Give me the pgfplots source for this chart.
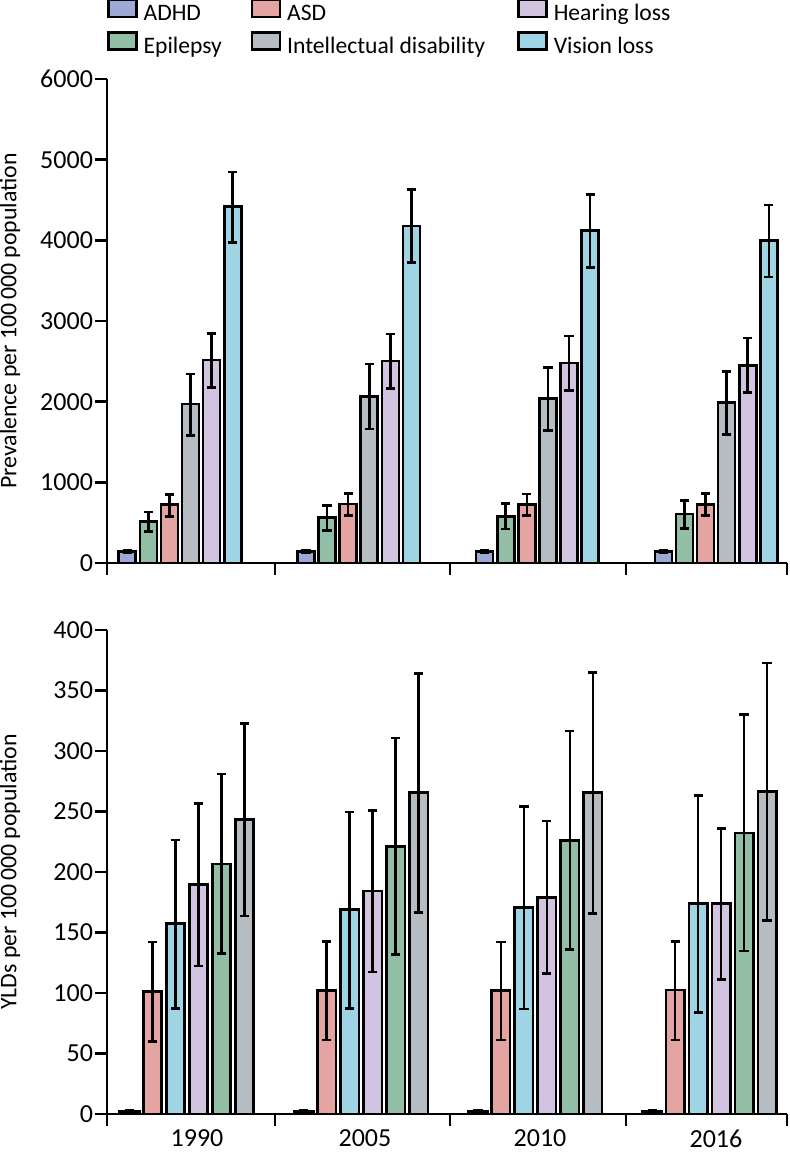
\documentclass[border=0pt]{standalone}
\usepackage{fontspec}
\setmainfont{Carlito}
\usepackage{pgfplots}
\usepackage{pgfplotstable}
\pgfplotsset{compat=1.18}

\definecolor{cADHD}{HTML}{9DAAD6}
\definecolor{cASD}{HTML}{E4A4A1}
\definecolor{cHear}{HTML}{D2C4E0}
\definecolor{cEpi}{HTML}{91BEA5}
\definecolor{cID}{HTML}{B5BCC2}
\definecolor{cVis}{HTML}{9ED4E4}

% Prevalence per 100 000 (value, lower, upper)
\pgfplotstableread{
g adhd adhdlo adhdhi epi epilo epihi asd asdlo asdhi id idlo idhi hear hearlo hearhi vis vislo vishi
0 144 128 162 516 392 631 722 578 846 1969 1581 2344 2517 2175 2848 4416 3970 4845
1 144 128 162 565 404 710 730 586 858 2063 1659 2468 2505 2167 2839 4177 3723 4631
2 144 128 162 578 421 735 722 590 854 2039 1643 2427 2480 2138 2815 4119 3665 4565
3 144 128 162 607 429 776 722 590 858 1989 1593 2377 2451 2113 2790 3995 3545 4437
}\toptab

% YLDs per 100 000 (value, lower, upper)
\pgfplotstableread{
g adhd adhdlo adhdhi asd asdlo asdhi vis vislo vishi hear hearlo hearhi epi epilo epihi id idlo idhi
0 2.3 1.5 3.1 101.3 59.7 142.0 157.2 87.3 226.5 189.8 122.3 256.8 206.7 132.5 280.9 243.4 163.6 322.6
1 2.3 1.5 3.1 101.9 61.0 142.6 168.9 87.3 249.5 184.3 117.3 251.0 221.3 131.6 310.6 265.5 166.5 363.9
2 2.3 1.5 3.1 101.9 61.1 142.0 170.9 86.8 254.1 179.0 115.9 242.2 226.2 136.0 316.4 265.5 165.9 365.1
3 2.3 1.5 3.1 102.5 61.1 142.6 173.8 83.8 263.2 174.1 111.2 236.1 232.3 134.8 330.1 266.4 160.1 372.6
}\bottab

% #1 table, #2 column, #3 offset, #4 colour, #5 bar width
\newcommand{\bbar}[5]{%
\addplot[ybar, bar width=#5, bar shift=0pt, draw=black, line width=1.3pt, fill=#4, forget plot,
  error bars/.cd, y dir=both, y explicit,
  error bar style={line width=1.3pt, black},
  error mark options={rotate=90, line width=1.3pt, black, mark size=2.3pt}]
  table[x expr=\thisrow{g}+(#3), y=#2,
        y error plus expr=\thisrow{#2hi}-\thisrow{#2},
        y error minus expr=\thisrow{#2}-\thisrow{#2lo}] {#1};}

\pgfplotsset{myax/.style={
  scale only axis, width=340pt, height=242pt,
  axis x line*=bottom, axis y line*=left,
  axis line style={line width=1.3pt, black},
  tick style={line width=1.3pt, black},
  major tick length=6pt, tick align=outside,
  enlargelimits=false, clip=false,
  ticklabel style={font=\fontsize{13}{15}\selectfont},
  yticklabel style={xshift=2.5pt},
  /pgf/number format/assume math mode=true,
  /pgf/number format/1000 sep={},
  scaled y ticks=false,
  ymin=0,
  ylabel style={font=\fontsize{11.9}{14}\selectfont, at={(axis description cs:-0.1426,0.5)}, anchor=center},
}}

\begin{document}
\begin{tikzpicture}
\begin{axis}[myax,
  at={(0,0)}, anchor=south west,
  xmin=-0.4085, xmax=3.3967,
  xtick={-0.4085,0.532,1.511,2.496,3.3967}, xticklabels={},
  ymax=6000, ytick={0,1000,...,6000},
  ylabel={Prevalence per 100\,000 population},
  legend columns=3,
  legend cell align=left,
  legend image code/.code={\draw[#1, line width=1.3pt] (0pt,-0.75pt) rectangle (14pt,7.75pt);},
  legend style={draw=none, fill=none, inner sep=0pt, outer sep=0pt,
    at={(axis description cs:0,1.1663)}, anchor=north west,
    nodes={inner sep=0pt, text height=8pt, text depth=3pt, font=\fontsize{11.8}{14}\selectfont},
    row sep=2.5pt, column sep=0pt,
    /tikz/every odd column/.append style={column sep=3pt}},
]
\addlegendimage{fill=cADHD, draw=black}
\addlegendentry{\makebox[53.5pt][l]{ADHD}}
\addlegendimage{fill=cASD, draw=black}
\addlegendentry{\makebox[115pt][l]{ASD}}
\addlegendimage{fill=cHear, draw=black}
\addlegendentry{Hearing loss}
\addlegendimage{fill=cEpi, draw=black}
\addlegendentry{\makebox[53.5pt][l]{Epilepsy}}
\addlegendimage{fill=cID, draw=black}
\addlegendentry{\makebox[115pt][l]{Intellectual disability}}
\addlegendimage{fill=cVis, draw=black}
\addlegendentry{Vision loss}

\bbar{\toptab}{adhd}{-0.295}{cADHD}{0.095}
\bbar{\toptab}{epi}{-0.177}{cEpi}{0.095}
\bbar{\toptab}{asd}{-0.059}{cASD}{0.095}
\bbar{\toptab}{id}{0.059}{cID}{0.095}
\bbar{\toptab}{hear}{0.177}{cHear}{0.095}
\bbar{\toptab}{vis}{0.295}{cVis}{0.095}
\end{axis}

\begin{axis}[myax,
  at={(0,-33.5pt)}, anchor=north west,
  xmin=-0.4592, xmax=3.4443,
  xtick={-0.4592,0.505,1.510,2.520,3.4443},
  xticklabels={1990,2005,2010,2016,{}},
  xticklabel style={xshift=45pt, yshift=1.5pt, font=\fontsize{13}{15}\selectfont},
  ymax=400, ytick={0,50,...,400},
  ylabel={YLDs per 100\,000 population},
]
\bbar{\bottab}{adhd}{-0.330}{cADHD}{0.112}
\bbar{\bottab}{asd}{-0.198}{cASD}{0.106}
\bbar{\bottab}{vis}{-0.066}{cVis}{0.106}
\bbar{\bottab}{hear}{0.066}{cHear}{0.106}
\bbar{\bottab}{epi}{0.198}{cEpi}{0.106}
\bbar{\bottab}{id}{0.330}{cID}{0.106}
\end{axis}

\pgfresetboundingbox
\path[use as bounding box] (-53.5pt,-295pt) rectangle (341pt,281.5pt);
\end{tikzpicture}
\end{document}
